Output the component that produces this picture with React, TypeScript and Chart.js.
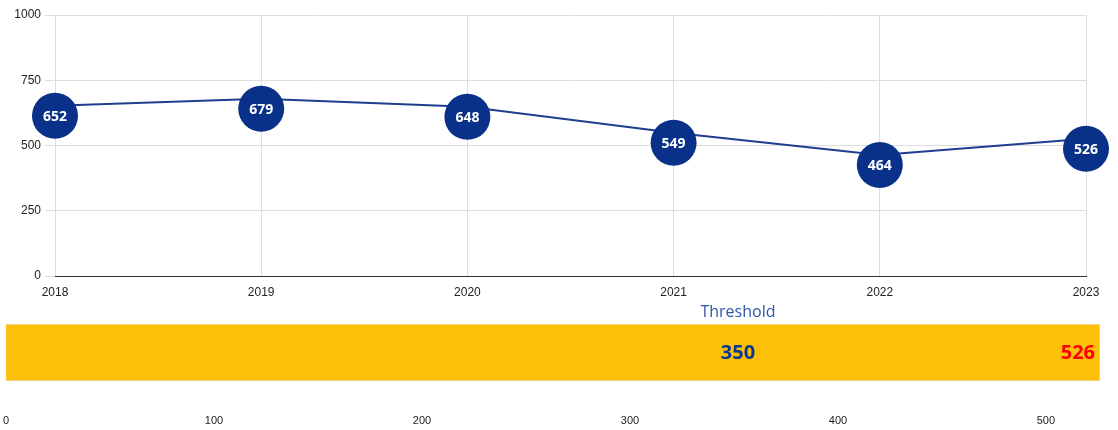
import React, { useEffect, useRef } from "react";
import { Chart, registerables } from "chart.js";

Chart.register(...registerables);

const years = ["2018", "2019", "2020", "2021", "2022", "2023"];
const values = [652, 679, 648, 549, 464, 526];
const yTickStep = 250;
const yMax = 1000;

const barCategory = ["2023"];
const barValues = [526];
const thresholdValue = 350;
const barTicks = [0, 100, 200, 300, 400, 500];

const NAVY = "#0A318A";
const LINE = "#1E3E8E";
const GRID = "#DDDDDD";
const AXIS_FONT = "'Liberation Sans', Arial, sans-serif";
const LABEL_FONT = "'Open Sans', 'Noto Sans', sans-serif";

const bubblePlugin = {
  id: "bubbles",
  afterDatasetsDraw(chart: any) {
    const ctx = chart.ctx;
    const meta = chart.getDatasetMeta(0);
    const data = chart.data.datasets[0].data;
    ctx.save();
    meta.data.forEach((pt: any, i: number) => {
      const cx = pt.x;
      const cy = pt.y + 10;
      ctx.beginPath();
      ctx.arc(cx, cy, 23, 0, Math.PI * 2);
      ctx.fillStyle = NAVY;
      ctx.fill();
      ctx.fillStyle = "#FFFFFF";
      ctx.font = `700 14px ${LABEL_FONT}`;
      ctx.textAlign = "center";
      ctx.textBaseline = "middle";
      ctx.fillText(String(data[i]), cx, cy + 1);
    });
    ctx.restore();
  },
};

const thresholdPlugin = {
  id: "thresholdLabels",
  afterDatasetsDraw(chart: any) {
    const ctx = chart.ctx;
    const x = chart.scales.x;
    const area = chart.chartArea;
    const midY = (area.top + area.bottom) / 2;
    const tx = x.getPixelForValue(thresholdValue) + 4;
    ctx.save();
    ctx.textAlign = "center";
    ctx.textBaseline = "middle";
    ctx.fillStyle = "#2E55A8";
    ctx.font = `400 16px ${LABEL_FONT}`;
    ctx.fillText("Threshold", tx, area.top - 12);
    ctx.fillStyle = "#0A3A8F";
    ctx.font = `700 20px ${LABEL_FONT}`;
    ctx.fillText(String(thresholdValue), tx, midY + 1);
    ctx.fillStyle = "#FF0000";
    ctx.textAlign = "right";
    ctx.fillText(String(barValues[0]), x.getPixelForValue(barValues[0]) - 5, midY + 1);
    ctx.restore();
  },
};

function LineChart() {
  const ref = useRef<HTMLCanvasElement | null>(null);
  useEffect(() => {
    if (!ref.current) return;
    const chart = new Chart(ref.current, {
      type: "line",
      data: {
        labels: years,
        datasets: [
          {
            data: values,
            borderColor: LINE,
            borderWidth: 2,
            pointRadius: 0,
            tension: 0,
            clip: false as any,
          },
        ],
      },
      options: {
        animation: false,
        responsive: true,
        maintainAspectRatio: false,
        layout: { padding: { top: 15, right: 32, left: 0, bottom: 0 } },
        plugins: { legend: { display: false }, tooltip: { enabled: false } },
        scales: {
          x: {
            type: "category",
            offset: false,
            grid: { color: GRID, drawTicks: false },
            border: { display: true, color: "#333333", width: 1 },
            ticks: {
              padding: 9,
              color: "#222222",
              font: { family: AXIS_FONT, size: 12 },
              maxRotation: 0,
            },
            afterFit(scale: any) {
              scale.height = 29;
            },
          },
          y: {
            min: 0,
            max: yMax,
            grid: { color: GRID, tickLength: 10, tickColor: GRID },
            border: { display: false },
            ticks: {
              stepSize: yTickStep,
              padding: 4,
              color: "#222222",
              font: { family: AXIS_FONT, size: 12 },
              callback: (v: any) => String(v),
            },
            afterFit(scale: any) {
              scale.width = 55;
            },
          },
        },
      },
      plugins: [bubblePlugin],
    } as any);
    return () => chart.destroy();
  }, []);
  return <canvas ref={ref} />;
}

function BarChart() {
  const ref = useRef<HTMLCanvasElement | null>(null);
  useEffect(() => {
    if (!ref.current) return;
    const chart = new Chart(ref.current, {
      type: "bar",
      data: {
        labels: barCategory,
        datasets: [
          {
            data: barValues,
            backgroundColor: "#FCC008",
            borderColor: "#EADBA6",
            borderWidth: 1,
            barPercentage: 1,
            categoryPercentage: 1,
          },
        ],
      },
      options: {
        indexAxis: "y",
        animation: false,
        responsive: true,
        maintainAspectRatio: false,
        layout: { padding: { top: 19, right: 18, left: 0, bottom: 0 } },
        plugins: { legend: { display: false }, tooltip: { enabled: false } },
        scales: {
          x: {
            type: "linear",
            min: 0,
            max: barValues[0],
            grid: { display: false, drawTicks: true, tickLength: 30 },
            border: { display: false },
            afterBuildTicks(scale: any) {
              scale.ticks = barTicks.map((v) => ({ value: v }));
            },
            ticks: {
              padding: 3,
              color: "#222222",
              font: { family: AXIS_FONT, size: 11 },
              maxRotation: 0,
            },
            afterFit(scale: any) {
              scale.height = 49;
            },
          },
          y: {
            display: false,
          },
        },
      },
      plugins: [thresholdPlugin],
    } as any);
    return () => chart.destroy();
  }, []);
  return <canvas ref={ref} />;
}

export default function App() {
  return (
    <div style={{ position: "absolute", left: 0, top: 0, width: 1118, height: 430, background: "#fff" }}>
      <div style={{ position: "absolute", left: 0, top: 0, width: 1118, height: 305 }}>
        <LineChart />
      </div>
      <div style={{ position: "absolute", left: 0, top: 305, width: 1118, height: 125 }}>
        <BarChart />
      </div>
    </div>
  );
}
